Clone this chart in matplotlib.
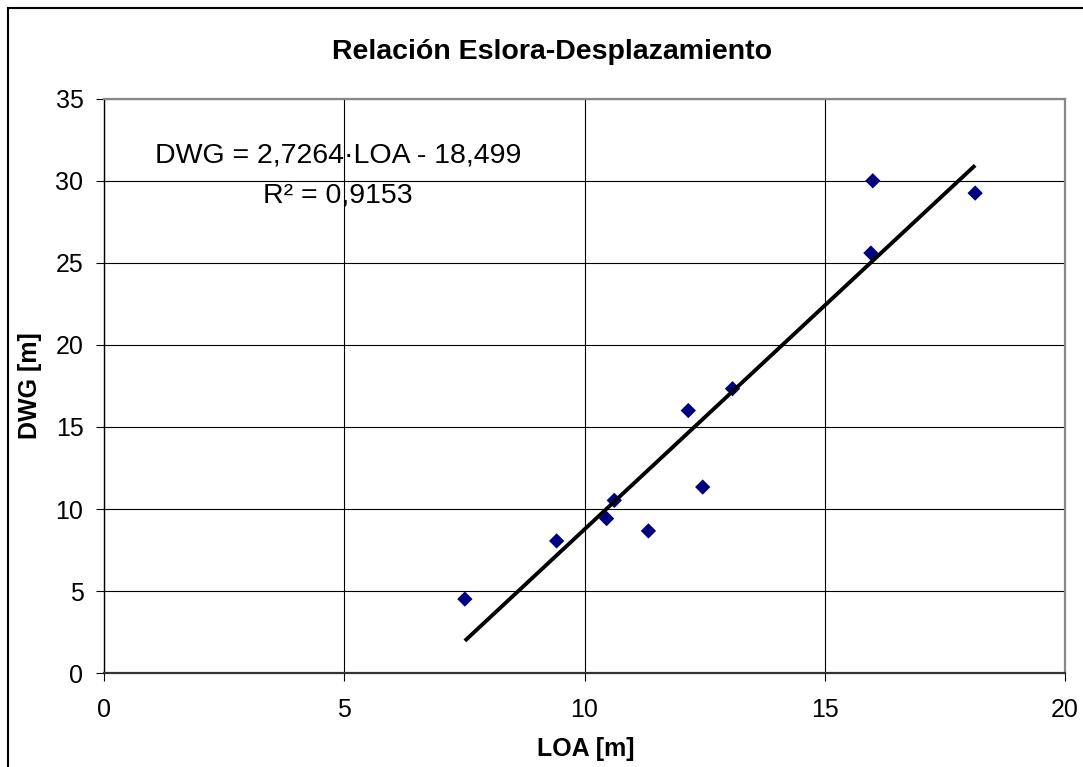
import matplotlib
matplotlib.use("Agg")
import matplotlib.pyplot as plt
from matplotlib.lines import Line2D
import numpy as np

plt.rcParams['font.family'] = ['Liberation Sans', 'DejaVu Sans']

# Data
loa = [7.51, 9.42, 10.46, 10.62, 11.33, 12.16, 12.46, 13.08, 15.96, 16.00, 18.13]
dwg = [4.52, 8.06, 9.42, 10.53, 8.67, 16.00, 11.34, 17.33, 25.59, 29.99, 29.24]
slope = 2.7264
intercept = -18.499
r2 = 0.9153

title = "Relación Eslora-Desplazamiento"
xlabel = "LOA [m]"
ylabel = "DWG [m]"
xticks = [0, 5, 10, 15, 20]
yticks = [0, 5, 10, 15, 20, 25, 30, 35]

W, H = 1083, 767
fig = plt.figure(figsize=(W / 100, H / 100), dpi=100)
fig.patch.set_facecolor('white')

ax = fig.add_axes([104 / W, 1 - 673.3 / H, (1065 - 104) / W, (673.3 - 98.5) / H])
ax.set_xlim(0, 20)
ax.set_ylim(0, 35)
ax.set_xticks(xticks)
ax.set_yticks(yticks)
ax.set_xticklabels([str(v) for v in xticks])
ax.set_yticklabels([str(v) for v in yticks])
ax.grid(True, color='black', linewidth=0.8, zorder=0)
ax.set_axisbelow(True)

ax.scatter(loa, dwg, marker='D', s=7.8 ** 2, color='#000080', edgecolors='none', zorder=3)
xl = np.array([min(loa), max(loa)])
ax.plot(xl, slope * xl + intercept, color='black', linewidth=2.8, zorder=4,
        solid_capstyle='butt')

for side in ['top', 'right']:
    ax.spines[side].set_color('#888888')
    ax.spines[side].set_linewidth(1.6)
ax.spines['left'].set_color('black')
ax.spines['left'].set_linewidth(1.0)
ax.spines['bottom'].set_color('#333333')
ax.spines['bottom'].set_linewidth(1.6)

ax.tick_params(axis='both', direction='out', length=5.8, width=0.8, color='black',
               labelsize=18)
ax.tick_params(axis='x', pad=12)
ax.tick_params(axis='y', pad=9)

fig.text(552 / W, 1 - 52 / H, title, ha='center', va='center', fontsize=20.5,
         fontweight='bold')
fig.text(586 / W, 1 - 749 / H, xlabel, ha='center', va='center', fontsize=18,
         fontweight='bold')
fig.text(30 / W, 1 - 386 / H, ylabel, ha='center', va='center', fontsize=18,
         fontweight='bold', rotation=90)

eq = "DWG = " + f"{slope:.4f}".replace('.', ',') + "·LOA - " + f"{-intercept:.3f}".replace('.', ',')
fig.text(338 / W, 1 - 155 / H, eq, ha='center', va='center', fontsize=20.5)
fig.text(338 / W, 1 - 196 / H, "R² = " + f"{r2:.4f}".replace('.', ','), ha='center',
         va='center', fontsize=20.5)

# outer frame (top and left edges visible)
fig.add_artist(Line2D([8 / W, 1.0], [1 - 8 / H, 1 - 8 / H], color='black', linewidth=1.5))
fig.add_artist(Line2D([8 / W, 8 / W], [1 - 8 / H, 0.0], color='black', linewidth=1.5))

fig.savefig('out.png', dpi=100)
